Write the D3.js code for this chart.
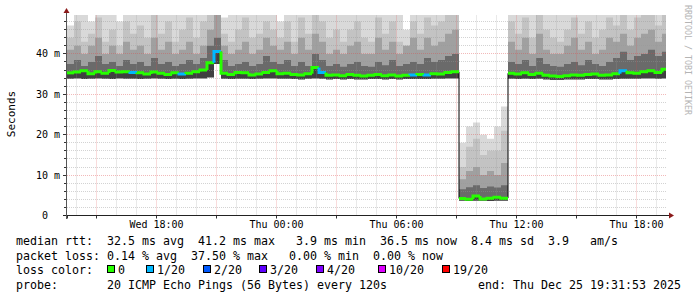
<!DOCTYPE html>
<html><head><meta charset="utf-8">
<script src="https://cdn.jsdelivr.net/npm/d3@7"></script>
<style>html,body{margin:0;padding:0;background:#fff}svg{display:block}text{font-family:"DejaVu Sans Mono",monospace;white-space:pre}</style>
</head><body><svg id="c" width="697" height="297"></svg>
<script>
// ---- data (RRD buckets of 21 minutes, 30 hours ending at END_TIME) ----
const END_TIME = Date.UTC(2025, 11, 25, 19, 31, 53);
const SPAN_HOURS = 30;
const BUCKET_SEC = 1260;
const Y_MAX_MS = 49.5;

const median = [
35.3,35.5,35.8,35.1,35.6,35.2,35.9,35.5,35.6,35.4,
35.3,35.0,35.5,35.2,34.9,35.3,35.0,35.2,35.6,36.0,
37.8,40.6,35.2,34.9,35.4,35.3,34.8,35.0,35.4,35.8,
35.1,35.2,34.9,34.8,35.1,36.6,35.4,34.7,34.8,34.6,
34.9,34.7,34.5,34.7,34.9,34.6,34.8,34.5,34.7,34.8,
34.9,34.8,35.1,35.0,35.4,35.6,4.2,4.0,4.8,4.1,
4.3,4.5,4.3,35.2,35.0,35.3,34.9,35.2,34.7,34.5,
34.4,34.6,34.8,34.7,34.9,35.0,34.7,34.8,35.1,35.8,
35.3,35.2,35.6,35.8,35.4,36.2];

const lostPings = [
0,0,0,0,0,0,0,0,0,1, 0,0,0,0,0,0,1,0,0,0,
0,1,0,0,0,0,0,0,0,0, 0,0,0,0,0,0,1,0,0,0,
0,0,0,0,0,0,0,0,0,1, 0,1,0,0,0,0,0,0,0,0,
0,0,0,0,0,0,0,0,0,0, 0,0,0,0,0,0,0,0,0,1,
0,0,0,0,0,0];

const pingMin = [
33.9,34.0,33.8,33.9,34.0,33.9,33.8,34.0,33.9,33.9,
33.8,33.9,34.0,33.9,33.8,33.9,33.8,33.9,34.0,34.0,
34.2,37.5,33.9,33.8,33.9,33.9,33.8,33.9,34.0,34.0,
33.9,33.9,33.8,33.7,33.9,34.0,33.9,33.7,33.8,33.7,
33.8,33.7,33.7,33.8,33.8,33.7,33.8,33.7,33.8,33.8,
33.8,33.8,33.9,33.9,34.0,34.0,3.7,3.6,3.7,3.7,
3.6,3.7,3.7,33.9,33.8,33.9,33.8,33.9,33.7,33.6,
33.6,33.7,33.7,33.7,33.8,33.8,33.7,33.7,33.8,33.9,
33.9,33.9,34.0,34.0,33.9,34.0];

const ping75 = [
37.5,38.5,37.0,38.0,39.5,37.5,38.0,37.0,38.5,37.5,
38.0,37.0,39.0,37.5,38.0,37.0,37.5,38.5,37.5,39.0,
42.0,44.0,38.5,37.0,37.5,38.0,37.0,37.5,39.5,38.0,
37.5,38.5,37.0,38.0,37.0,40.0,38.5,37.0,37.5,36.8,
37.5,38.0,37.0,36.8,38.0,37.2,38.5,37.0,37.5,38.0,
37.5,39.0,38.0,38.5,39.5,40.0,6.5,7.0,7.5,6.8,
7.2,6.9,7.5,38.0,37.5,38.5,37.0,39.0,37.5,37.0,
36.8,37.5,38.0,37.2,38.5,37.5,37.0,38.0,39.0,40.5,
38.5,39.5,40.0,41.0,39.5,40.5];

const ping90 = [
41,42,40,42,44,40,42,40,43,41,
42,40,44,41,43,40,41,43,40,42,
46,50,42,40,41,43,40,41,44,42,
41,43,40,44,41,45,43,40,41,40,
42,43,40,40,44,41,43,40,42,44,
41,44,42,43,45,46,9,11,12,10,
11,10,13,43,41,44,40,45,41,40,
40,42,44,41,43,40,41,44,43,45,
42,44,45,46,43,45];

const ping95 = [
44,48,43,45,49,43,46,42,48,45,
47,44,50,45,48,43,46,49,44,48,
50,50,45,43,46,49,44,45,48,46,
44,48,43,49,45,50,48,44,46,43,
46,48,44,43,49,45,48,43,42,48,
45,49,47,48,50,50,12,17,19,15,
16,16,21,48,45,49,44,50,46,44,
43,46,49,45,48,44,46,49,47,50,
46,49,50,50,47,50];

const pingMax = [
47,50,50,48,50,50,50,48,50,50,
50,50,50,50,50,50,50,50,50,50,
50,50,49,50,50,50,50,50,50,50,
48,50,50,50,50,50,50,50,50,50,
50,50,50,50,50,50,50,50,46,50,
50,50,50,50,50,50,18,22,23,20,
19,22,27,50,50,50,50,50,50,50,
50,50,50,50,50,50,50,50,50,50,
50,50,50,50,50,50];

const yTicksMajor = [0, 10, 20, 30, 40];
const lossThresholds = [0, 1, 2, 3, 4, 10, 19];
const lossLabels = ["0", "1/20", "2/20", "3/20", "4/20", "10/20", "19/20"];
const lossColors = ["#26ff00", "#00b8ff", "#0059ff", "#5e00ff", "#7e00ff", "#dd00ff", "#ff0000"];
const statsLine1 = "median rtt:  32.5 ms avg  41.2 ms max   3.9 ms min  36.5 ms now  8.4 ms sd  3.9   am/s";
const statsLine2 = "packet loss: 0.14 % avg  37.50 % max   0.00 % min  0.00 % now";
const probeLine = "probe:       20 ICMP Echo Pings (56 Bytes) every 120s";
const endLine = "end: Thu Dec 25 19:31:53 2025";
const watermark = "RRDTOOL / TOBI OETIKER";

// ---- layout ----
const svg = d3.select("#c");
const L = 67, R = 667, T = 15.5, B = 215.5;
const legendX = [107, 146, 203, 259, 316, 378, 442];

const start = END_TIME - SPAN_HOURS * 3600e3;
const x = d3.scaleUtc().domain([start, END_TIME]).range([L, R]);
const y = d3.scaleLinear().domain([0, Y_MAX_MS]).range([B, T]);
const crisp = v => Math.floor(v) + 0.5;

svg.append("rect").attr("width", 697).attr("height", 297).attr("fill", "#fff");
svg.append("defs").append("clipPath").attr("id", "pc")
  .append("rect").attr("x", L).attr("y", 15).attr("width", 599).attr("height", 201);

const pts = median.map((m, i) => ({
  t: start + i * BUCKET_SEC * 1000, med: m, lo: pingMin[i], q75: ping75[i],
  q90: ping90[i], q95: ping95[i], hi: pingMax[i], loss: lostPings[i]}));
const ptsExt = pts.concat([Object.assign({}, pts[pts.length - 1], {t: start + pts.length * BUCKET_SEC * 1000})]);

// smoke
const plot = svg.append("g").attr("clip-path", "url(#pc)");
const layers = [["hi", "#d9d9d9"], ["q95", "#c3c3c3"], ["q90", "#a0a0a0"], ["q75", "#6a6a6a"], ["med", "#404040"]];
layers.forEach(([k, c]) => {
  plot.append("path").datum(ptsExt)
    .attr("d", d3.area().curve(d3.curveStepAfter).x(d => x(d.t)).y0(d => y(d.lo)).y1(d => y(d[k])))
    .attr("fill", c);
});

// grid
const grid = svg.append("g");
const minorC = "rgba(150,150,150,0.42)", majorC = "rgba(220,70,70,0.38)";
const hMinor = d3.range(2, Y_MAX_MS, 2).filter(v => v % 10 !== 0);
grid.selectAll(".hm").data(hMinor).join("line")
  .attr("x1", L).attr("x2", R).attr("y1", d => crisp(y(d))).attr("y2", d => crisp(y(d)))
  .attr("stroke", minorC).attr("stroke-dasharray", "1,1");
const vMinor = d3.utcHour.every(1).range(start, END_TIME).filter(t => t.getUTCHours() % 3 !== 0);
grid.selectAll(".vm").data(vMinor).join("line")
  .attr("x1", d => crisp(x(d))).attr("x2", d => crisp(x(d))).attr("y1", T).attr("y2", B)
  .attr("stroke", minorC).attr("stroke-dasharray", "1,1");
grid.selectAll(".hM").data(yTicksMajor.filter(v => v > 0)).join("line")
  .attr("x1", L).attr("x2", R).attr("y1", d => crisp(y(d))).attr("y2", d => crisp(y(d)))
  .attr("stroke", majorC).attr("stroke-dasharray", "1,1");
const vMajor = d3.utcHour.every(3).range(start, END_TIME);
grid.selectAll(".vM").data(vMajor).join("line")
  .attr("x1", d => crisp(x(d))).attr("x2", d => crisp(x(d))).attr("y1", T).attr("y2", B)
  .attr("stroke", majorC).attr("stroke-dasharray", "1,1");

// median lines
const colorFor = l => lossColors[d3.bisectRight(lossThresholds, l) - 1];
const lineGen = d3.line().x(d => d[0]).y(d => d[1]);
const mline = svg.append("g").attr("clip-path", "url(#pc)");
mline.append("path").datum(ptsExt)
  .attr("d", d3.line().curve(d3.curveStepAfter).x(d => x(d.t)).y(d => y(d.med)))
  .attr("fill", "none").attr("stroke", "#000").attr("stroke-width", 1);
pts.forEach((d, i) => {
  const x0 = x(d.t), x1 = x(d.t + BUCKET_SEC * 1000);
  const prev = i > 0 && Math.abs(pts[i - 1].med - d.med) < 10 ? pts[i - 1].med : d.med;
  mline.append("path")
    .attr("d", lineGen([[x0, y(prev)], [x0, y(d.med)], [x1, y(d.med)]]))
    .attr("fill", "none").attr("stroke", colorFor(d.loss)).attr("stroke-width", 3);
});

// axes
const ax = svg.append("g");
ax.selectAll(".ytm").data(d3.range(0, Y_MAX_MS, 2)).join("line")
  .attr("x1", d => d % 10 === 0 ? 63 : 64).attr("x2", 66.5)
  .attr("y1", d => crisp(y(d))).attr("y2", d => crisp(y(d))).attr("stroke", "#333");
ax.selectAll(".xtm").data(vMajor.concat([new Date(start)])).join("line")
  .attr("x1", d => crisp(x(d))).attr("x2", d => crisp(x(d)))
  .attr("y1", B).attr("y2", 218.5).attr("stroke", "#333");
ax.append("line").attr("x1", 63).attr("x2", 669).attr("y1", B).attr("y2", B).attr("stroke", "#222");
ax.append("line").attr("x1", 66.5).attr("x2", 66.5).attr("y1", 219).attr("y2", 12).attr("stroke", "#555");
ax.append("path").attr("d", "M63.5,13L69.5,13L66.5,8Z").attr("fill", "#8b1a1a");
ax.append("path").attr("d", "M669,212.5L669,218.5L674,215.5Z").attr("fill", "#8b1a1a");

ax.selectAll(".yl").data(yTicksMajor).join("text")
  .attr("x", 60).attr("y", d => crisp(y(d)) + 3.5).attr("text-anchor", "end")
  .attr("font-size", "10px").attr("fill", "#000")
  .text(d => d === 0 ? "0  " : d + " m");
ax.selectAll(".xl").data(d3.utcHour.every(6).range(start, END_TIME)).join("text")
  .attr("x", d => crisp(x(d))).attr("y", 227.5).attr("text-anchor", "middle")
  .attr("font-size", "10px").attr("fill", "#000")
  .text(d => d3.utcFormat("%a %H:%M")(d));

svg.append("text").attr("transform", "translate(15,114) rotate(-90)")
  .attr("text-anchor", "middle").attr("font-size", "11px").attr("fill", "#000").text("Seconds");
svg.append("text").attr("transform", "translate(684.5,5) rotate(90)")
  .attr("font-size", "8.3px").attr("fill", "#b4b4b4").text(watermark);

// legend
const lg = svg.append("g").attr("font-size", "11.63px").attr("fill", "#000");
lg.append("text").attr("x", 16).attr("y", 245).text(statsLine1);
lg.append("text").attr("x", 16).attr("y", 259.5).text(statsLine2);
lg.append("text").attr("x", 16).attr("y", 274).text("loss color:");
lossLabels.forEach((lab, i) => {
  lg.append("rect").attr("x", legendX[i] + 0.5).attr("y", 265.5).attr("width", 7).attr("height", 7)
    .attr("fill", lossColors[i]).attr("stroke", "#000").attr("stroke-width", 1);
  lg.append("text").attr("x", legendX[i] + 11).attr("y", 274).text(lab);
});
lg.append("text").attr("x", 16).attr("y", 288.5).text(probeLine);
lg.append("text").attr("x", 478).attr("y", 288.5).text(endLine);
</script>
</body></html>
